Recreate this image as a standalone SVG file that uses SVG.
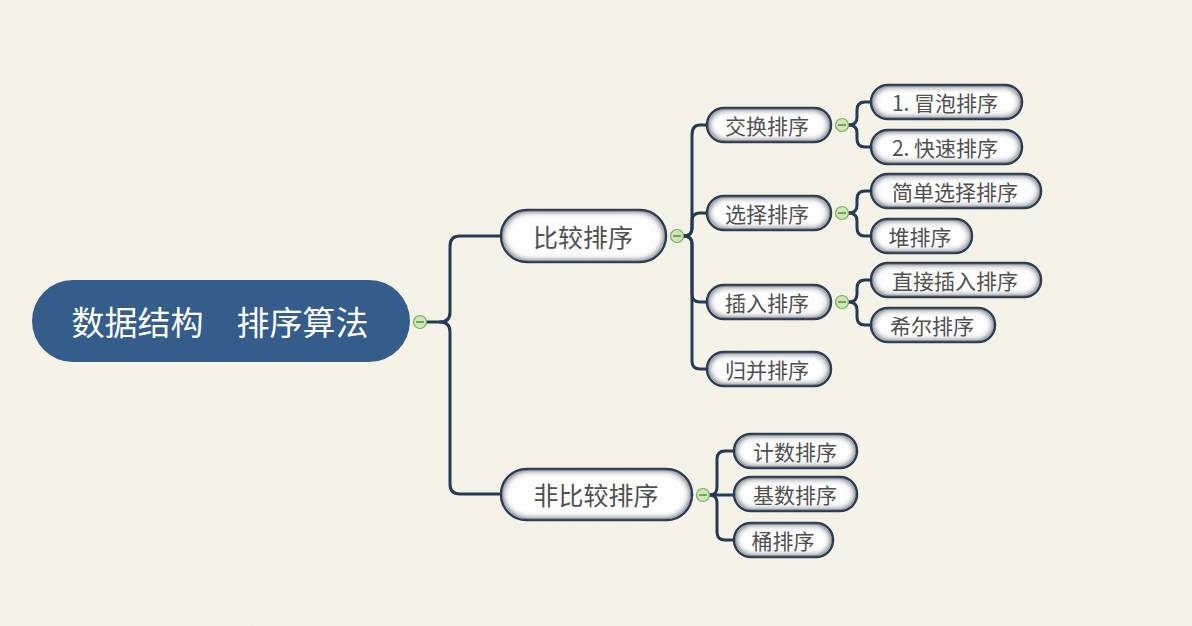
<svg xmlns="http://www.w3.org/2000/svg" width="1192" height="626" viewBox="0 0 1192 626">
<defs>
<filter id="is" x="-10%" y="-30%" width="120%" height="160%">
<feMorphology in="SourceAlpha" operator="erode" radius="2" result="inA"/>
<feFlood flood-color="#5f6672" result="f"/>
<feComposite in="f" in2="inA" operator="out" result="o"/>
<feGaussianBlur in="o" stdDeviation="3" result="b"/>
<feComposite in="b" in2="inA" operator="in" result="s"/>
<feMerge><feMergeNode in="SourceGraphic"/><feMergeNode in="s"/><feMergeNode in="s"/></feMerge>
</filter>
<filter id="paper" x="0" y="0" width="100%" height="100%">
<feTurbulence type="fractalNoise" baseFrequency="0.9" numOctaves="2" seed="3" result="n"/>
<feColorMatrix in="n" type="matrix" values="0 0 0 0 0.6  0 0 0 0 0.57  0 0 0 0 0.5  0 0 0 0.06 0"/>
</filter>
<style>
.bg{fill:#f6f3e8}
.n{fill:#fdfdfd;stroke:#2c3e55;stroke-width:2.5;filter:url(#is)}
.root{fill:#355d8b}
.t{font-family:"Noto Sans CJK SC","Liberation Serif",serif;fill:#505050;text-anchor:middle;dominant-baseline:central}
.t1{font-size:25px}
.t2{font-size:21px}
.rt{font-size:33px;fill:#ffffff}
.c{fill:none;stroke:#243a55;stroke-width:3;stroke-linecap:round}
.tg circle{fill:#cde8b6;stroke:#78ad5c;stroke-width:1.2}
.tg line{stroke:#4a6a3a;stroke-width:1.2}
</style>
</defs>
<rect class="bg" x="0" y="0" width="1192" height="626"/>
<rect x="0" y="0" width="1192" height="626" filter="url(#paper)"/>
<g id="connectors">
<path class="c" d="M427,322 H440 Q450,322 450,312 V246 Q450,236 460,236 H501"/>
<path class="c" d="M440,322 Q450,322 450,332 V484 Q450,494 460,494 H501"/>
<path class="c" d="M684,236 Q692,236 692,228 V135 Q692,125 700,125 H707"/>
<path class="c" d="M684,236 Q692,236 692,228 V221 Q692,213 700,213 H707"/>
<path class="c" d="M684,236 Q692,236 692,244 V294 Q692,302 700,302 H707"/>
<path class="c" d="M684,236 Q692,236 692,244 V361 Q692,369 700,369 H707"/>
<path class="c" d="M849,125 Q857,125 857,117 V110 Q857,102 865,102 H871"/>
<path class="c" d="M849,125 Q857,125 857,133 V139 Q857,147 865,147 H871"/>
<path class="c" d="M849,213 Q857,213 857,205 V199 Q857,191 865,191 H871"/>
<path class="c" d="M849,213 Q857,213 857,221 V228 Q857,236 865,236 H871"/>
<path class="c" d="M849,302 Q857,302 857,294 V288 Q857,280 865,280 H871"/>
<path class="c" d="M849,302 Q857,302 857,310 V317 Q857,325 865,325 H871"/>
<path class="c" d="M710,495 Q717,495 717,487 V459 Q717,451 725,451 H734"/>
<path class="c" d="M710,495 H734"/>
<path class="c" d="M710,495 Q717,495 717,503 V532 Q717,540 725,540 H734"/>
</g>
<g id="root">
<rect class="root" x="32" y="280" width="378" height="82" rx="41"/>
<text class="t rt" x="220" y="321">数据结构　排序算法</text>
<g class="tg"><circle cx="420" cy="322" r="6.5"/><line x1="416" y1="322" x2="424" y2="322"/></g>
</g>
<g id="n-bijiao">
<rect class="n" x="501" y="210" width="165" height="52" rx="26"/>
<text class="t t1" x="583" y="236">比较排序</text>
<g class="tg"><circle cx="677" cy="236" r="6.5"/><line x1="673" y1="236" x2="681" y2="236"/></g>
</g>
<g id="n-feibijiao">
<rect class="n" x="501" y="469" width="191" height="51" rx="25.5"/>
<text class="t t1" x="596" y="494">非比较排序</text>
<g class="tg"><circle cx="703" cy="495" r="6.5"/><line x1="699" y1="495" x2="707" y2="495"/></g>
</g>
<g id="n-jiaohuan">
<rect class="n" x="707" y="108" width="124" height="34" rx="17"/>
<text class="t t2" x="767" y="125">交换排序</text>
<g class="tg"><circle cx="842" cy="125" r="6.5"/><line x1="838" y1="125" x2="846" y2="125"/></g>
</g>
<g id="n-xuanze">
<rect class="n" x="707" y="196" width="124" height="34" rx="17"/>
<text class="t t2" x="767" y="213">选择排序</text>
<g class="tg"><circle cx="842" cy="213" r="6.5"/><line x1="838" y1="213" x2="846" y2="213"/></g>
</g>
<g id="n-charu">
<rect class="n" x="707" y="285" width="124" height="34" rx="17"/>
<text class="t t2" x="767" y="302">插入排序</text>
<g class="tg"><circle cx="842" cy="302" r="6.5"/><line x1="838" y1="302" x2="846" y2="302"/></g>
</g>
<g id="n-guibing">
<rect class="n" x="707" y="352" width="124" height="34" rx="17"/>
<text class="t t2" x="767" y="369">归并排序</text>
</g>
<g id="n-maopao">
<rect class="n" x="871" y="85" width="151" height="34" rx="17"/>
<text class="t t2" x="945" y="102">1. 冒泡排序</text>
</g>
<g id="n-kuaisu">
<rect class="n" x="871" y="130" width="151" height="34" rx="17"/>
<text class="t t2" x="945" y="147">2. 快速排序</text>
</g>
<g id="n-jiandan">
<rect class="n" x="871" y="174" width="170" height="34" rx="17"/>
<text class="t t2" x="955" y="191">简单选择排序</text>
</g>
<g id="n-dui">
<rect class="n" x="871" y="219" width="101" height="34" rx="17"/>
<text class="t t2" x="920" y="236">堆排序</text>
</g>
<g id="n-zhijie">
<rect class="n" x="871" y="263" width="170" height="34" rx="17"/>
<text class="t t2" x="955" y="280">直接插入排序</text>
</g>
<g id="n-xier">
<rect class="n" x="871" y="308" width="124" height="34" rx="17"/>
<text class="t t2" x="932" y="325">希尔排序</text>
</g>
<g id="n-jishu">
<rect class="n" x="734" y="434" width="123" height="34" rx="17"/>
<text class="t t2" x="795" y="451">计数排序</text>
</g>
<g id="n-jishu2">
<rect class="n" x="734" y="477" width="123" height="34" rx="17"/>
<text class="t t2" x="795" y="494">基数排序</text>
</g>
<g id="n-tong">
<rect class="n" x="734" y="523" width="99" height="34" rx="17"/>
<text class="t t2" x="783" y="540">桶排序</text>
</g>
</svg>
